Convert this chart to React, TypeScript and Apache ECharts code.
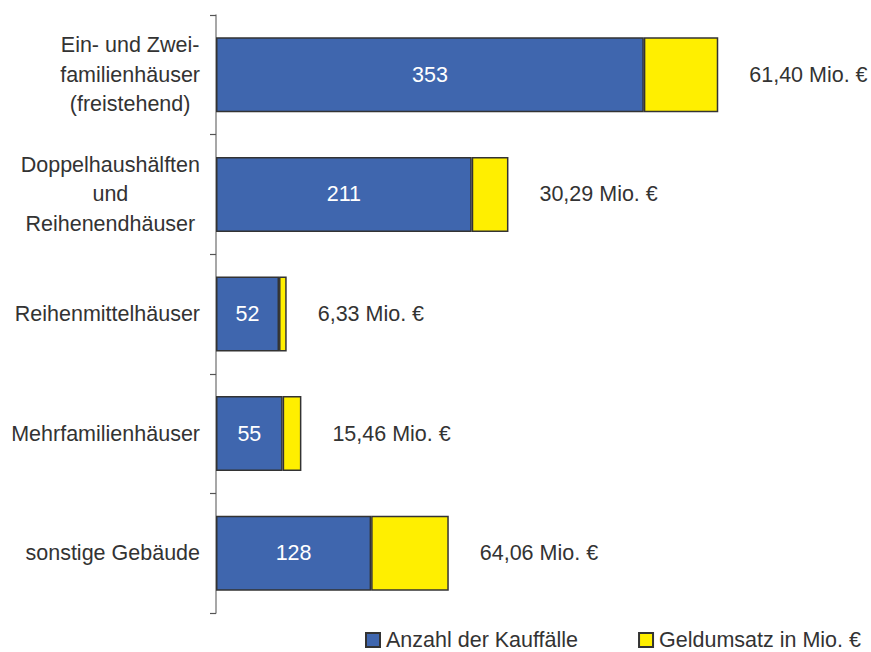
import React, { useEffect, useRef } from "react";
import * as echarts from "echarts";

const categories = [
  "Ein- und Zwei-\nfamilienhäuser\n(freistehend)",
  "Doppelhaushälften\nund\nReihenendhäuser",
  "Reihenmittelhäuser",
  "Mehrfamilienhäuser",
  "sonstige Gebäude",
];
const kauffaelle = [353, 211, 52, 55, 128];
const geldumsatz = [61.4, 30.29, 6.33, 15.46, 64.06];
const seriesNames = ["Anzahl der Kauffälle", "Geldumsatz in Mio. €"];

const FONT = "'Liberation Sans', Arial, sans-serif";
const TEXT = "#333333";
const FS = 21.5;

export default function App() {
  const ref = useRef<HTMLDivElement>(null);
  useEffect(() => {
    document.body.style.margin = "0";
    const chart = echarts.init(ref.current!, null, { renderer: "svg" });
    chart.setOption({
      animation: false,
      backgroundColor: "#ffffff",
      textStyle: { fontFamily: FONT, color: TEXT },
      grid: { left: 216, top: 15, width: 606, height: 598 },
      xAxis: { type: "value", min: 0, max: 500, show: false },
      yAxis: {
        type: "category",
        data: categories,
        inverse: true,
        axisLine: { show: true, lineStyle: { color: "#8a8a8a", width: 1.5 } },
        axisTick: { show: true, length: 6, lineStyle: { color: "#555", width: 1.2 } },
        splitLine: { show: false },
        axisLabel: {
          margin: 16,
          fontSize: FS,
          fontFamily: FONT,
          color: TEXT,
          lineHeight: 29.5,
          formatter: (v: string) =>
            v.split("\n").map((l) => `{c|${l}}`).join("\n"),
          rich: {
            c: { align: "center", fontSize: FS, lineHeight: 29.5, color: TEXT, fontFamily: FONT },
          },
        },
      },
      legend: {
        left: 360,
        top: 624,
        itemWidth: 14,
        itemHeight: 14,
        itemGap: 60,
        icon: "rect",
        textStyle: { fontSize: FS, color: TEXT, fontFamily: FONT, padding: [0, 0, 0, 1] },
        data: seriesNames,
      },
      series: [
        {
          name: seriesNames[0],
          type: "bar",
          stack: "total",
          barWidth: 75,
          data: kauffaelle,
          itemStyle: { color: "#3f66ae", borderColor: "#333333", borderWidth: 1.5 },
          label: {
            show: true,
            position: "inside",
            color: "#ffffff",
            fontSize: FS,
            fontFamily: FONT,
          },
        },
        {
          name: seriesNames[1],
          type: "bar",
          stack: "total",
          barWidth: 75,
          data: geldumsatz,
          itemStyle: { color: "#ffef00", borderColor: "#333333", borderWidth: 1.5 },
          label: {
            show: true,
            position: "right",
            distance: 31,
            color: TEXT,
            fontSize: FS,
            fontFamily: FONT,
            formatter: (p: any) =>
              geldumsatz[p.dataIndex].toFixed(2).replace(".", ",") + " Mio. €",
          },
        },
      ],
    });
    return () => chart.dispose();
  }, []);
  return <div ref={ref} style={{ width: 871, height: 652 }} />;
}
